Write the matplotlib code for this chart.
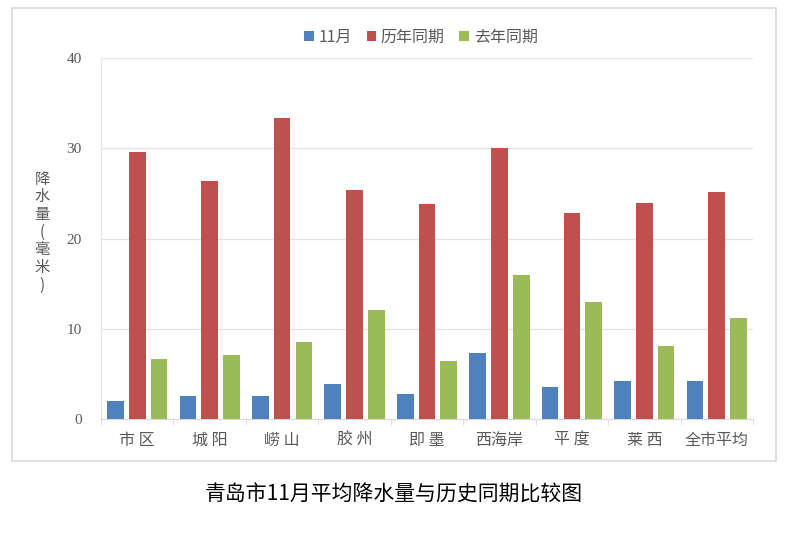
import matplotlib
matplotlib.use("Agg")
import matplotlib.pyplot as plt
import numpy as np
from matplotlib.patches import Rectangle

plt.rcParams['font.family'] = ['Noto Sans CJK SC', 'DejaVu Sans']

categories = ["市 区", "城 阳", "崂 山", "胶 州", "即 墨", "西海岸", "平 度", "莱 西", "全市平均"]
series_names = ["11月", "历年同期", "去年同期"]
nov = [2.0, 2.5, 2.5, 3.9, 2.8, 7.3, 3.5, 4.2, 4.2]
hist = [29.6, 26.4, 33.4, 25.4, 23.8, 30.0, 22.8, 23.9, 25.2]
last_year = [6.6, 7.1, 8.5, 12.1, 6.4, 16.0, 13.0, 8.1, 11.2]
colors = ["#4F81BD", "#C0504D", "#9BBB59"]
yticks = [0, 10, 20, 30, 40]

fig = plt.figure(figsize=(7.92, 5.46), dpi=100)
fig.patch.set_facecolor("white")

# outer chart border
fig.patches.append(Rectangle((12/792, 1-461/546), 764/792, 453/546,
                             transform=fig.transFigure, fill=False,
                             edgecolor="#D9D9D9", linewidth=1.2))

ax = fig.add_axes([101/792, 1-419/546, 652/792, 361/546])
x = np.arange(len(categories))
w = 0.23
pitch = 0.30
handles = []
for i, (vals, c, name) in enumerate(zip([nov, hist, last_year], colors, series_names)):
    h = ax.bar(x + (i-1)*pitch, vals, width=w, color=c, label=name, zorder=3)
    handles.append(h)

ax.set_xlim(-0.5, len(categories)-0.5)
ax.set_ylim(0, 40)
ax.set_yticks(yticks)
ax.set_yticklabels([str(t) for t in yticks], color="#595959", fontsize=11, family="Liberation Serif")
ax.yaxis.grid(True, color="#E3E3E3", linewidth=0.9, zorder=0)
ax.tick_params(axis="y", length=0, pad=14)
ax.set_xticks(x)
ax.set_xticklabels(categories, color="#595959", fontsize=11.5)
ax.tick_params(axis="x", length=0, pad=9)
# minor ticks at group boundaries
ax.set_xticks(np.arange(-0.5, len(categories)), minor=True)
ax.tick_params(axis="x", which="minor", length=4, color="#D9D9D9")
for s in ["top", "right"]:
    ax.spines[s].set_visible(False)
ax.spines["left"].set_color("#E6E6E6")
ax.spines["bottom"].set_color("#D9D9D9")

# vertical y label
ylabel = "降\n水\n量\n(\n毫\n米\n)"
fig.text(42/792, 1-232/546, ylabel, ha="center", va="center", fontsize=11,
         color="#595959", linespacing=1.05, multialignment="center")

leg = fig.legend(handles=handles, labels=series_names, loc="center",
                 bbox_to_anchor=(421/792, 1-37/546), ncol=3, frameon=False,
                 fontsize=11.5, handlelength=0.6, handleheight=0.6,
                 handletextpad=0.3, columnspacing=0.9)
for t in leg.get_texts():
    t.set_color("#595959")

fig.text(394/792, 1-495/546, "青岛市11月平均降水量与历史同期比较图", ha="center",
         va="center", fontsize=15, color="black")

fig.savefig("out.png", dpi=100)
